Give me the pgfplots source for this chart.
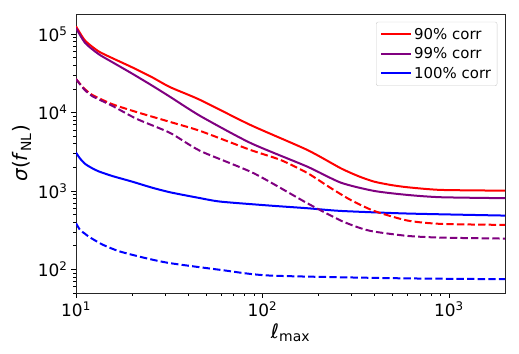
\documentclass[border=0pt]{standalone}
\usepackage{fontspec}
\setmainfont{DejaVu Sans}
\usepackage{pgfplots}
\pgfplotsset{compat=1.18}

\definecolor{mplpurple}{HTML}{800080}

\begin{document}
\begin{tikzpicture}
\useasboundingbox (-76bp,-61bp) rectangle (443bp,293bp);
\begin{loglogaxis}[
    at={(0,0)}, anchor=south west,
    scale only axis,
    width=429bp, height=279bp,
    xmin=10, xmax=2000,
    ymin=50, ymax=1.8e5,
    tick align=outside,
    tick pos=left,
    major tick length=5bp,
    minor tick length=3bp,
    every tick/.append style={line width=0.6pt, black},
    axis line style={line width=0.8pt, black!85},
    /pgf/number format/assume math mode=true,
    log number format basis/.code 2 args={#1\textsuperscript{\pgfmathprintnumber{#2}}},
    tick label style={font=\fontsize{17}{20}\selectfont},
    label style={font=\fontsize{20}{24}\selectfont},
    xlabel={\textit{ℓ}\textsubscript{max}},
    ylabel={\textit{σ}(\textit{f}\textsubscript{NL})},
    every axis plot/.append style={line width=2bp, smooth, tension=0.4},
    legend cell align=left,
    legend style={at={(0.982,0.972)}, anchor=north east,
      draw=black!20, rounded corners=2pt,
      font=\fontsize{15}{18}\selectfont,
      row sep=3bp, inner sep=4bp},
    legend image code/.code={\draw[#1, line width=2bp] (0bp,0bp) -- (30bp,0bp);},
]
% solid lines
\addplot[red] coordinates {
(10,125300) (11.2,82200) (13.2,60200) (15.6,49500) (20,37650) (25.6,28100)
(32,21000) (46.4,14430) (86.2,6930) (174,3330) (263,1946) (330,1530)
(397,1314) (487,1192) (600,1114) (906,1030) (2000,1008)};
\addlegendentry{90\% corr}
\addplot[mplpurple] coordinates {
(10,119300) (11.2,76800) (13.2,55600) (15.6,44000) (20,31300) (25.6,22000)
(32,15800) (46.4,9020) (86.2,4088) (174,2040) (263,1276) (397,1000)
(600,889) (906,831) (2000,808)};
\addlegendentry{99\% corr}
\addplot[blue] coordinates {
(10,3076) (10.5,2600) (11.2,2208) (12.2,1950) (13.2,1780) (15.6,1553) (20,1314) (25.6,1100)
(32,960) (45,820) (59.5,731) (110,650) (174,602) (263,556) (600,515) (2000,485)};
\addlegendentry{100\% corr}
% dashed lines
\addplot[red, dash pattern=on 7.4bp off 3.2bp, forget plot] coordinates {
(10,26700) (11,20500) (12.2,16800) (15.6,12800) (21.2,10100) (32,7570)
(46.4,5810) (86.2,3330) (125,2483) (174,1695) (232,1092) (297,768) (397,556)
(600,419) (906,380) (2000,369)};
\addplot[mplpurple, dash pattern=on 7.4bp off 3.2bp, forget plot] coordinates {
(10,26700) (11,20000) (12.2,16200) (15.6,12200) (21.2,8270) (32,5480)
(46.4,3235) (89.8,1681) (174,697) (263,419) (336,335) (397,303)
(600,267) (906,254) (2000,247)};
\addplot[blue, dash pattern=on 7.4bp off 3.2bp, forget plot] coordinates {
(10,388) (10.5,320) (11.2,283) (11.9,255) (14,205) (17.2,169) (24,138) (32,120) (59.5,98.6)
(110,83.4) (550,77) (2000,75)};
\end{loglogaxis}
\end{tikzpicture}
\end{document}
